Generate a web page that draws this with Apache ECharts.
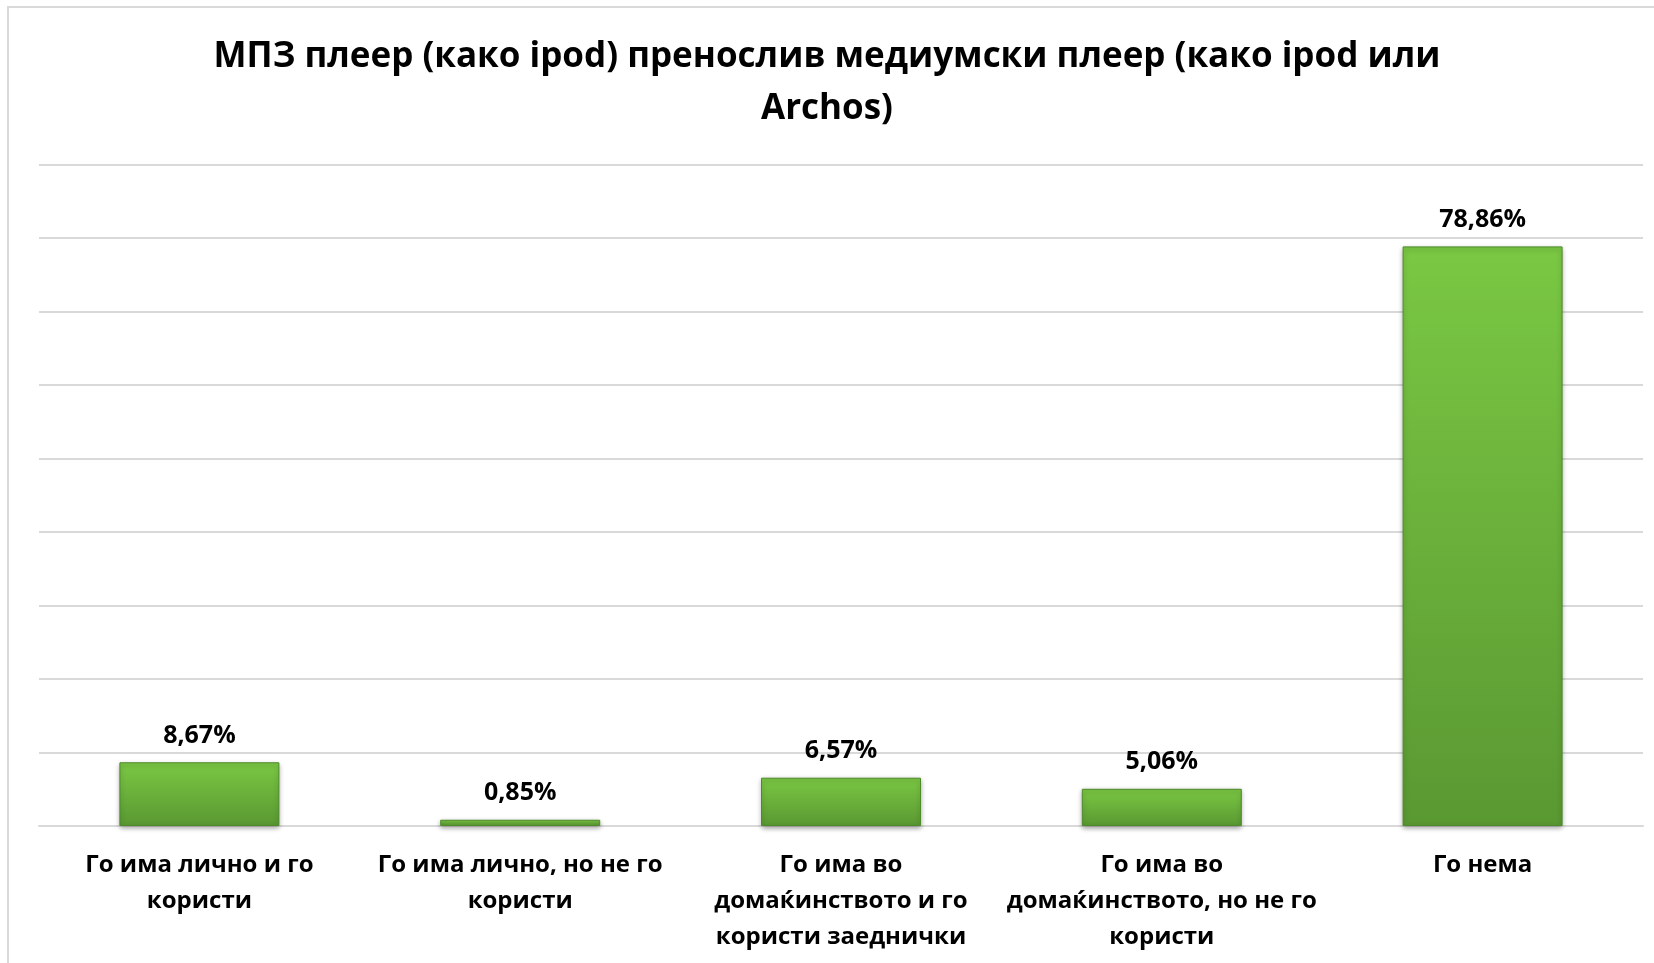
<!DOCTYPE html>
<html>
<head>
<meta charset="utf-8">
<script src="https://cdn.jsdelivr.net/npm/echarts@6/dist/echarts.min.js"></script>
<style>html,body{margin:0;padding:0;background:#fff}#c{width:1654px;height:963px}</style>
</head>
<body>
<div id="c"></div>
<script>
const titleText = 'МПЗ плеер (како ipod) пренослив медиумски плеер (како ipod или\nArchos)';
const categories = [
  'Го има лично и го\nкористи',
  'Го има лично, но не го\nкористи',
  'Го има во\nдомаќинството и го\nкористи заеднички',
  'Го има во\nдомаќинството, но не го\nкористи',
  'Го нема'
];
const values = [8.67, 0.85, 6.57, 5.06, 78.86];
const yMin = 0, yMax = 90, yInterval = 10;

const chart = echarts.init(document.getElementById('c'));
const font = '"Open Sans", sans-serif';
chart.setOption({
  animation: false,
  title: {
    text: titleText,
    left: 'center',
    top: 26,
    textStyle: { fontFamily: font, fontWeight: 'bold', fontSize: 35, lineHeight: 52, color: '#000' }
  },
  graphic: [{
    type: 'rect', shape: { x: 8, y: 7, width: 1700, height: 1000 },
    style: { fill: 'none', stroke: '#d9d9d9', lineWidth: 2 }, silent: true, z: -1
  }],
  grid: { left: 39, right: 11, top: 164.5, bottom: 137 },
  xAxis: {
    type: 'category',
    data: categories,
    axisTick: { show: false },
    axisLine: { lineStyle: { color: '#d9d9d9', width: 2 } },
    axisLabel: {
      interval: 0, margin: 21,
      fontFamily: font, fontWeight: 'bold', fontSize: 24, lineHeight: 36, color: '#000'
    }
  },
  yAxis: {
    type: 'value', min: yMin, max: yMax, interval: yInterval,
    axisLabel: { show: false },
    axisLine: { show: false }, axisTick: { show: false },
    splitLine: { lineStyle: { color: '#d9d9d9', width: 2 } }
  },
  series: [{
    type: 'bar',
    data: values,
    barWidth: 160,
    itemStyle: {
      color: new echarts.graphic.LinearGradient(0, 0, 0, 1, [
        { offset: 0, color: '#7ac843' },
        { offset: 1, color: '#5a9832' }
      ]),
      borderColor: '#4e8a2a', borderWidth: 1,
      shadowColor: 'rgba(0,0,0,0.35)', shadowBlur: 5, shadowOffsetY: 2
    },
    label: {
      show: true, position: 'top', distance: 14,
      formatter: p => p.value.toFixed(2).replace('.', ',') + '%',
      fontFamily: font, fontWeight: 'bold', fontSize: 25, color: '#000'
    }
  }]
});
</script>
</body>
</html>
